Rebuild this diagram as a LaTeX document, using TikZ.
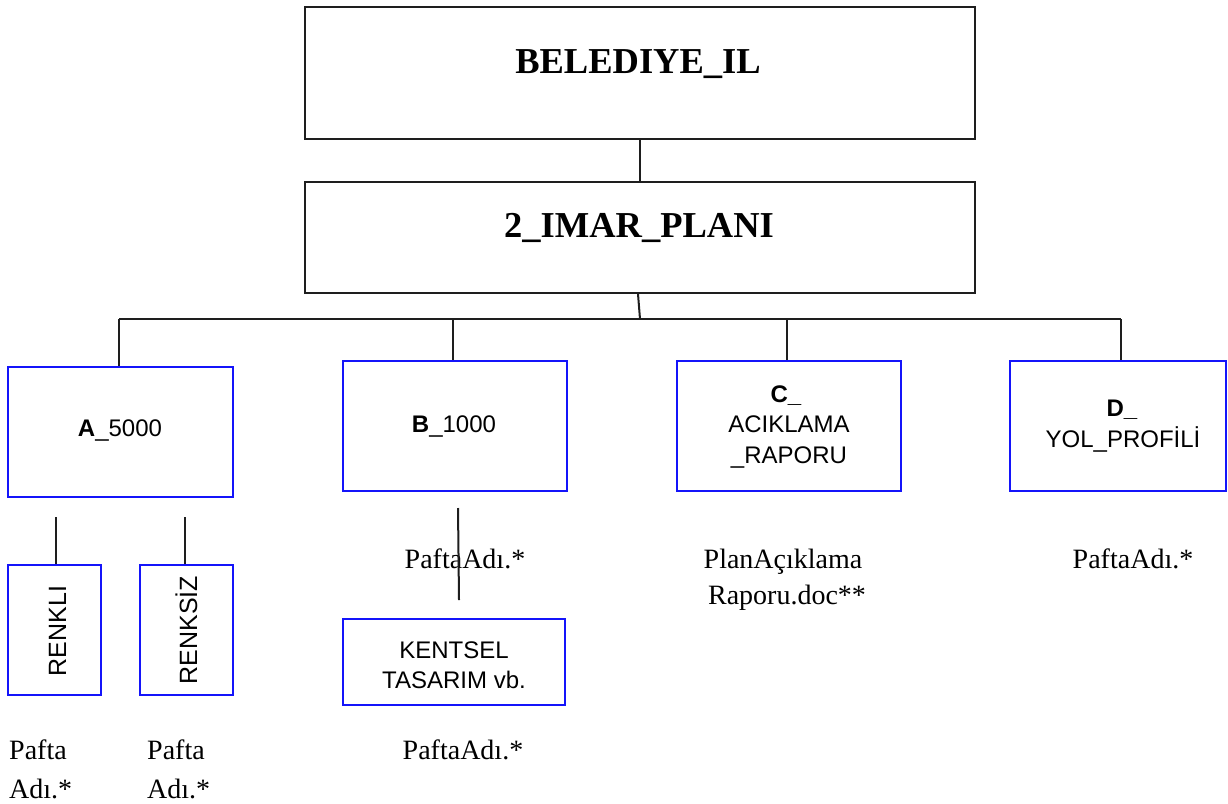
\documentclass[tikz,border=0pt]{standalone}
\usepackage{fontspec}
\setmainfont{Liberation Serif}
\setsansfont{Liberation Sans}
\definecolor{boxblue}{RGB}{20,20,250}
\definecolor{linegray}{RGB}{30,30,30}
\begin{document}
\begin{tikzpicture}[x=1pt,y=-1pt,
  topbox/.style={draw=linegray,line width=2pt,rectangle,inner sep=0pt,minimum width=#1},
  bluebox/.style={draw=boxblue,line width=2.4pt,rectangle,inner sep=0pt},
  conn/.style={draw=linegray,line width=2pt},
  bigtxt/.style={font=\fontsize{36.5}{42}\selectfont\bfseries,anchor=base,inner sep=0pt},
  sanstxt/.style={font=\fontsize{24}{30}\selectfont\sffamily,anchor=base,inner sep=0pt},
  sertxt/.style={font=\fontsize{28}{34}\selectfont,anchor=base,inner sep=0pt},
  rottxt/.style={font=\fontsize{25}{30}\selectfont\sffamily,anchor=base,inner sep=0pt,rotate=90}]
\useasboundingbox (0,0) rectangle (1228,803);

% top boxes
\node[topbox=670, minimum height=132] (bel) at (640,73) {};
\node[bigtxt] (beltxt) at (638,73) {BELEDIYE\_IL};
\node[topbox=670, minimum height=111] (imar) at (640,237.5) {};
\node[bigtxt] (imartxt) at (639,237) {2\_IMAR\_PLANI};

% second level boxes
\node[bluebox, minimum width=225, minimum height=130] (a) at (120.5,432) {};
\node[sanstxt] (atxt) at (120,436) {\textbf{A}\_5000};
\node[bluebox, minimum width=224, minimum height=130] (b) at (455,426) {};
\node[sanstxt] (btxt) at (454,432) {\textbf{B}\_1000};
\node[bluebox, minimum width=224, minimum height=130] (c) at (789,426) {};
\node[sanstxt] (ctxt1) at (786,402) {\textbf{C\_}};
\node[sanstxt] (ctxt2) at (789,432) {ACIKLAMA};
\node[sanstxt] (ctxt3) at (789,463) {\_RAPORU};
\node[bluebox, minimum width=216, minimum height=130] (d) at (1118,426) {};
\node[sanstxt] (dtxt1) at (1122,416) {\textbf{D\_}};
\node[sanstxt] (dtxt2) at (1123,447) {YOL\_PROF\.{I}L\.{I}};

% A children
\node[bluebox, minimum width=93, minimum height=130] (renkli) at (54.5,630) {};
\node[rottxt] (renklitxt) at (66,631) {RENKLI};
\node[bluebox, minimum width=93, minimum height=130] (renksiz) at (186.5,630) {};
\node[rottxt] (renksiztxt) at (197,630) {RENKS\.{I}Z};

% B child
\node[bluebox, minimum width=222, minimum height=86] (kent) at (454,662) {};
\node[sanstxt] (kenttxt1) at (454,658) {KENTSEL};
\node[sanstxt] (kenttxt2) at (454,688) {TASARIM vb.};

% file labels
\node[sertxt,anchor=base west] (pa1) at (9,759) {Pafta};
\node[sertxt,anchor=base west] (pa2) at (9,798) {Ad\i.*};
\node[sertxt,anchor=base west] (pb1) at (147,759) {Pafta};
\node[sertxt,anchor=base west] (pb2) at (147,798) {Ad\i.*};
\node[sertxt] (pbtop) at (465,568) {PaftaAd\i.*};
\node[sertxt] (pbbot) at (463,759) {PaftaAd\i.*};
\node[sertxt] (pc1) at (783,568) {PlanA\c{c}\i klama};
\node[sertxt] (pc2) at (787,604) {Raporu.doc**};
\node[sertxt] (pd) at (1133,568) {PaftaAd\i.*};

% connectors
\coordinate (busA) at (119,319);
\coordinate (busB) at (453,319);
\coordinate (busC) at (787,319);
\coordinate (busD) at (1121,319);
\coordinate (busM) at (640,319);
\draw[conn] (bel.south) -- (imar.north);
\draw[conn] (imar.south -| 638,0) -- (busM);
\draw[conn] (busA) -- (busD);
\draw[conn] (busA) -- (busA |- a.north);
\draw[conn] (busB) -- (busB |- b.north);
\draw[conn] (busC) -- (busC |- c.north);
\draw[conn] (busD) -- (busD |- d.north);

\coordinate (ra) at (56,517);
\coordinate (rb) at (185,517);
\draw[conn] (ra) -- (ra |- renkli.north);
\draw[conn] (rb) -- (rb |- renksiz.north);

\coordinate (bl1) at (458,508);
\coordinate (bl2) at (459,600);
\draw[conn] (bl1) -- (bl2);
\end{tikzpicture}
\end{document}
